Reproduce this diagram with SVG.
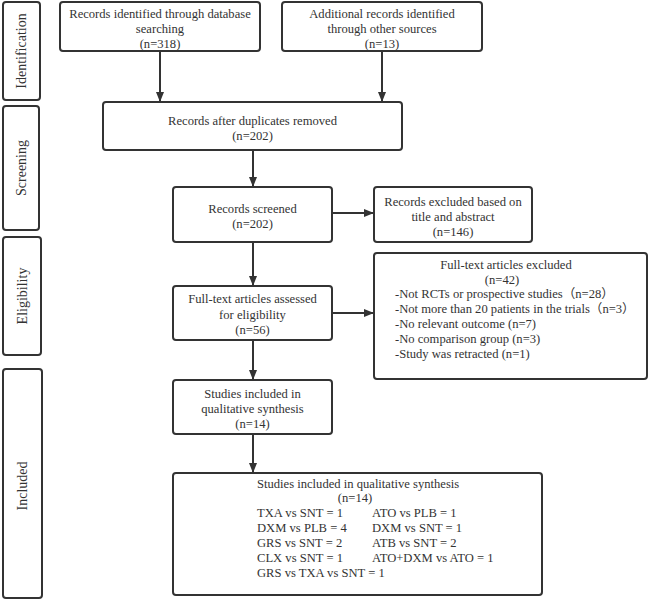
<svg xmlns="http://www.w3.org/2000/svg" width="650" height="601" viewBox="0 0 650 601">
<defs>
<style>
.b{fill:#fff;stroke:#333;stroke-width:2}
.t{font-family:'Liberation Serif','Noto Sans CJK SC',serif;font-size:12.6px;fill:#333}
.m{text-anchor:middle}
.s{font-family:'Liberation Serif',serif;font-size:14px;fill:#333;text-anchor:middle}
.c{stroke:#333;stroke-width:2;fill:none;marker-end:url(#a)}
</style>
<marker id="a" markerUnits="userSpaceOnUse" markerWidth="10" markerHeight="10" viewBox="0 0 10 10" refX="10" refY="5" orient="auto">
<path d="M0,1 L10,5 L0,9 Z" fill="#333"/>
</marker>
</defs>
<rect width="650" height="601" fill="#fff"/>
<g id="stage-identification"><rect class="b" x="3" y="2" width="37" height="98" rx="3"/><text class="s" transform="translate(26,51) rotate(-90)">Identification</text></g>
<g id="stage-screening"><rect class="b" x="3" y="106" width="36" height="124" rx="3"/><text class="s" transform="translate(26,168) rotate(-90)">Screening</text></g>
<g id="stage-eligibility"><rect class="b" x="3" y="237" width="38" height="118" rx="3"/><text class="s" transform="translate(27,296) rotate(-90)">Eligibility</text></g>
<g id="stage-included"><rect class="b" x="3" y="369" width="39" height="229" rx="3"/><text class="s" transform="translate(27,486) rotate(-90)">Included</text></g>

<g id="connectors">
<line class="c" x1="160" y1="51" x2="160" y2="102"/>
<line class="c" x1="382" y1="51" x2="382" y2="102"/>
<line class="c" x1="253" y1="150" x2="253" y2="187"/>
<line class="c" x1="253" y1="242" x2="253" y2="286"/>
<line class="c" x1="332" y1="213" x2="374" y2="213"/>
<line class="c" x1="253" y1="340" x2="253" y2="380"/>
<line class="c" x1="332" y1="313" x2="374" y2="313"/>
<line class="c" x1="253" y1="434" x2="253" y2="473"/>
</g>

<g id="db-records"><rect class="b" x="60" y="2" width="200" height="49" rx="3"/>
<text class="t m" x="160" y="17.5">Records identified through database</text>
<text class="t m" x="160" y="32.5">searching</text>
<text class="t m" x="160" y="47.5">(n=318)</text></g>

<g id="other-records"><rect class="b" x="282" y="2" width="200" height="49" rx="3"/>
<text class="t m" x="382" y="17.5">Additional records identified</text>
<text class="t m" x="382" y="32.5">through other sources</text>
<text class="t m" x="382" y="47.5">(n=13)</text></g>

<g id="dedup"><rect class="b" x="103" y="102" width="299" height="48" rx="3"/>
<text class="t m" x="252.5" y="124.5">Records after duplicates removed</text>
<text class="t m" x="252.5" y="139.5">(n=202)</text></g>

<g id="screened"><rect class="b" x="173" y="187" width="159" height="55" rx="3"/>
<text class="t m" x="252.5" y="212.5">Records screened</text>
<text class="t m" x="252.5" y="228">(n=202)</text></g>

<g id="excluded-abstract"><rect class="b" x="374" y="187" width="158" height="55" rx="3"/>
<text class="t m" x="453" y="206">Records excluded based on</text>
<text class="t m" x="453" y="221">title and abstract</text>
<text class="t m" x="453" y="236">(n=146)</text></g>

<g id="fulltext"><rect class="b" x="173" y="286" width="159" height="54" rx="3"/>
<text class="t m" x="252.5" y="303">Full-text articles assessed</text>
<text class="t m" x="252.5" y="318.5">for eligibility</text>
<text class="t m" x="252.5" y="334">(n=56)</text></g>

<g id="excluded-fulltext"><rect class="b" x="374" y="253" width="273" height="126" rx="3"/>
<text class="t m" x="506" y="268.5">Full-text articles excluded</text>
<text class="t m" x="502" y="283.5">(n=42)</text>
<text class="t" x="395" y="297.5">-Not RCTs or prospective studies（n=28）</text>
<text class="t" x="395" y="313">-Not more than 20 patients in the trials（n=3）</text>
<text class="t" x="395" y="327.5">-No relevant outcome (n=7)</text>
<text class="t" x="395" y="343">-No comparison group (n=3)</text>
<text class="t" x="395" y="358">-Study was retracted (n=1)</text></g>

<g id="qualitative"><rect class="b" x="173" y="380" width="159" height="54" rx="3"/>
<text class="t m" x="252.5" y="397.5">Studies included in</text>
<text class="t m" x="252.5" y="412.5">qualitative synthesis</text>
<text class="t m" x="252.5" y="428">(n=14)</text></g>

<g id="included-list"><rect class="b" x="173" y="473" width="369" height="122" rx="3"/>
<text class="t" x="257" y="487.5">Studies included in qualitative synthesis</text>
<text class="t m" x="355" y="501.5">(n=14)</text>
<text class="t" x="257" y="516.5">TXA vs SNT = 1</text>
<text class="t" x="372" y="516.5">ATO vs PLB = 1</text>
<text class="t" x="257" y="531.5">DXM vs PLB = 4</text>
<text class="t" x="372" y="531.5">DXM vs SNT = 1</text>
<text class="t" x="257" y="546.5">GRS vs SNT = 2</text>
<text class="t" x="372" y="546.5">ATB vs SNT = 2</text>
<text class="t" x="257" y="561.5">CLX vs SNT = 1</text>
<text class="t" x="372" y="561.5">ATO+DXM vs ATO = 1</text>
<text class="t" x="257" y="576.5">GRS vs TXA vs SNT = 1</text></g>
</svg>
